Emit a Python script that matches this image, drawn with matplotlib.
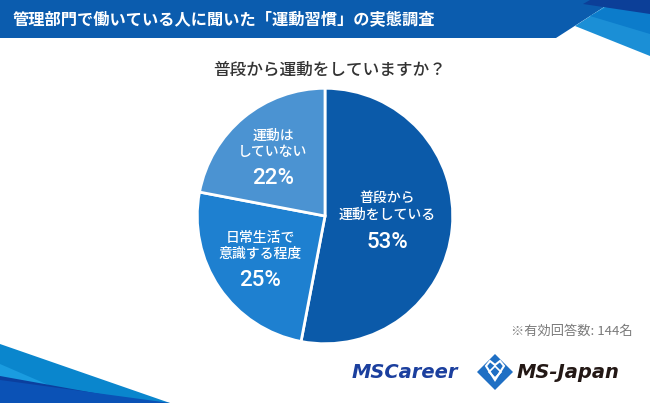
import matplotlib
matplotlib.use("Agg")
import matplotlib.pyplot as plt
from matplotlib.patches import Polygon

plt.rcParams['font.family'] = ['Noto Sans CJK JP', 'DejaVu Sans']

title = "管理部門で働いている人に聞いた「運動習慣」の実態調査"
question = "普段から運動をしていますか？"
labels = ["普段から\n運動をしている", "日常生活で\n意識する程度", "運動は\nしていない"]
values = [53, 25, 22]
colors = ["#0b5aa9", "#1e80d0", "#4b93d2"]
note = "※有効回答数: 144名"

W, H = 650, 403
fig = plt.figure(figsize=(6.5, 4.03), dpi=100)
fig.patch.set_facecolor("white")

# background axes in pixel coordinates (y downward)
bg = fig.add_axes([0, 0, 1, 1])
bg.set_xlim(0, W)
bg.set_ylim(H, 0)
bg.axis("off")

# header band
bg.add_patch(Polygon([(0, 0), (615, 0), (556, 38), (0, 38)], closed=True, color="#0b5cae", lw=0))
bg.add_patch(Polygon([(575, 26), (615, 0), (650, 0), (650, 56)], closed=True, color="#1b8fd6", lw=0))
bg.add_patch(Polygon([(590, 16), (620, 0), (650, 0), (650, 34)], closed=True, color="#0c7ccb", lw=0))
bg.add_patch(Polygon([(583, 4), (590, 0), (650, 0), (650, 14)], closed=True, color="#0c3f98", lw=0))
bg.text(13, 20, title, color="white", fontsize=11.7, fontweight="bold", va="center", ha="left")

# bottom-left stripes
bg.add_patch(Polygon([(0, 344), (170, 403), (0, 403)], closed=True, color="#0a86cd", lw=0))
bg.add_patch(Polygon([(0, 364), (90, 403), (0, 403)], closed=True, color="#1a9ce0", lw=0))
bg.add_patch(Polygon([(0, 376), (150, 403), (0, 403)], closed=True, color="#0b3f9e", lw=0))
bg.add_patch(Polygon([(0, 380), (170, 403), (0, 403)], closed=True, color="#0b52b6", lw=0))

# question
bg.text(330, 70, question, color="#333333", fontsize=12, ha="center", va="center",
        fontweight="medium")

# pie
cx, cy, r = 325, 216, 129
pax = fig.add_axes([(cx - r) / W, (H - cy - r) / H, 2 * r / W, 2 * r / H])
pax.pie(values, colors=colors, startangle=90, counterclock=False,
        wedgeprops=dict(edgecolor="white", linewidth=2))
pax.set_xlim(-1.01, 1.01)
pax.set_ylim(-1.01, 1.01)
pax.axis("off")

# overlay axes for labels (on top of pie)
ov = fig.add_axes([0, 0, 1, 1])
ov.set_xlim(0, W)
ov.set_ylim(H, 0)
ov.axis("off")
ov.patch.set_alpha(0)

label_pos = [(387, 206, 242), (260, 246, 280), (273, 144, 178)]
for lab, v, (x, y1, y2) in zip(labels, values, label_pos):
    ov.text(x, y1, lab, color="white", fontsize=10, ha="center", va="center",
            linespacing=1.25, fontweight="medium")
    ov.text(x, y2, f"{v}%", color="white", fontsize=16, ha="center", va="center",
            family=["Roboto", "DejaVu Sans"], fontweight="medium")

ov.text(633, 331, note, color="#7a7a7a", fontsize=9.5, ha="right", va="center")

# logos
ov.text(352, 372, "MSCareer", color="#1b3f9e", fontsize=14, fontweight="bold",
        fontstyle="italic", family=["DejaVu Sans"], ha="left", va="center")
ov.add_patch(Polygon([(495, 354), (513, 372), (495, 390), (477, 372)], closed=True, color="#1f6fc4", lw=0))
th = [(486, 366), (490, 361), (495, 365), (500, 361), (504, 366), (495, 380), (486, 366)]
ov.add_patch(Polygon(th, closed=True, fill=False, edgecolor="white", lw=1.5))
ov.add_patch(Polygon([(489, 372), (495, 366), (501, 372), (495, 378)], closed=True, fill=False, edgecolor="white", lw=1.2))
ov.text(517, 372, "MS-Japan", color="#231815", fontsize=14, fontweight="bold",
        fontstyle="italic", family=["DejaVu Sans"], ha="left", va="center")

fig.savefig("out.png", dpi=100)
